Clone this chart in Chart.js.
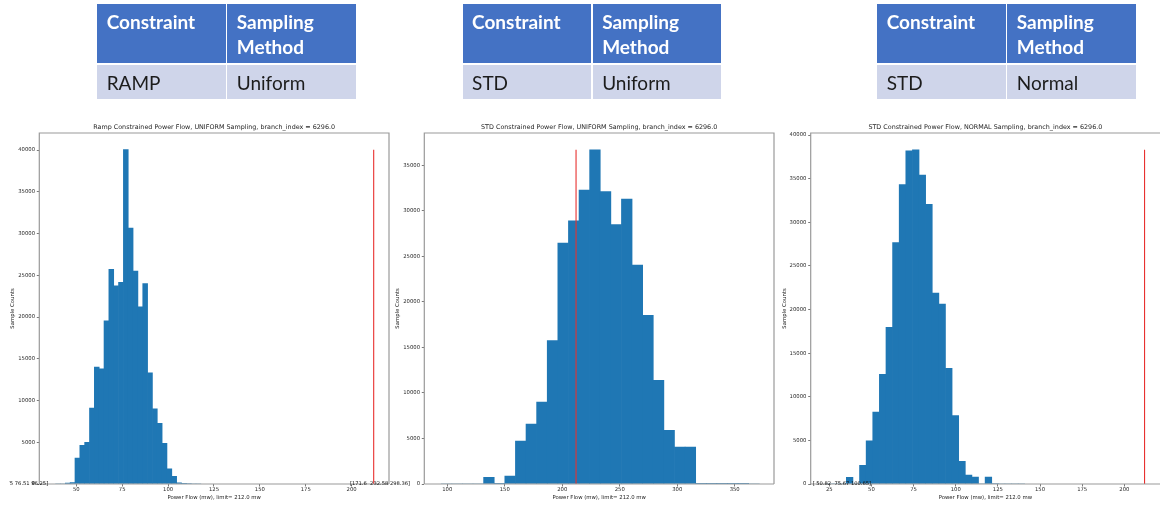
<!DOCTYPE html>
<html>
<head>
<meta charset="utf-8">
<script src="https://cdn.jsdelivr.net/npm/chart.js@4.4.1/dist/chart.umd.min.js"></script>
<style>
  html, body { margin: 0; padding: 0; background: #fff; }
  body { width: 1160px; height: 508px; position: relative; overflow: hidden; }
  canvas.panel { position: absolute; left: 0; top: 0; }
  #c0 { clip-path: inset(0 0 0 9px); }
  .tbl { position: absolute; top: 4px; display: grid;
         grid-template-columns: 128.7px 128.5px; grid-template-rows: 58.7px 33.7px;
         column-gap: 1.4px; row-gap: 2.6px; }
  .tbl .h { background: #4472c4; color: #fff; font-family: Lato, "Open Sans", sans-serif;
            font-weight: 700; font-size: 19px; line-height: 25px; padding: 5.2px 0 0 9.4px; box-sizing: border-box; }
  .tbl .b { background: #cfd5ea; color: #1c1c1c; font-family: Lato, "Open Sans", sans-serif;
            font-weight: 400; font-size: 19px; line-height: 25px; padding: 0 0 0 9.4px; box-sizing: border-box;
            display: flex; align-items: center; }
</style>
</head>
<body>
<canvas class="panel" id="c0" width="1160" height="508"></canvas>
<canvas class="panel" id="c1" width="1160" height="508"></canvas>
<canvas class="panel" id="c2" width="1160" height="508"></canvas>
<script>
// ---- table contents ----
const tableHeaders = ['Constraint', 'Sampling<br>Method'];
const constraints = ['RAMP', 'STD', 'STD'];
const samplingMethods = ['Uniform', 'Uniform', 'Normal'];
const tableLefts = [97.3, 462.7, 877.3];

// ---- histogram counts (30 bins each) ----
const rampUniformCounts = [0, 0, 120, 180, 3110, 4630, 4990, 9090, 14000, 13800,
  19540, 25720, 23730, 24170, 40050, 30670, 25520, 21220, 24010, 13320,
  9010, 7260, 4870, 1830, 920, 150, 90, 60, 0, 0];
const stdUniformCounts = [0, 0, 0, 0, 730, 70, 877, 4712, 6575, 8986,
  15744, 26448, 28895, 32293, 36713, 32110, 28493, 31306, 24037, 18521,
  11397, 5881, 4055, 4055, 70, 40, 30, 30, 20, 0];
const stdNormalCounts = [0, 0, 0, 763, 0, 2135, 4957, 8236, 12583, 17959,
  27682, 34317, 38206, 38320, 35423, 32067, 21887, 20628, 13269, 7855,
  2593, 1030, 800, 0, 800, 60, 0, 0, 0, 0];

// ---- bin layout: first edge and width (mw) ----
const binStarts = [38.73, 94.7, 23.32];
const binWidths = [2.637, 9.224, 3.921];

// ---- axis ranges and tick labels ----
const xRanges = [[29.84, 220.34], [80.0, 384.2], [13.95, 221.16]];
const yMaxes = [42050, 38550, 40236];
const rampTicksX = [50, 75, 100, 125, 150, 175, 200];
const stdUniformTicksX = [100, 150, 200, 250, 300, 350];
const stdNormalTicksX = [25, 50, 75, 100, 125, 150, 175, 200];
const rampTicksY = [0, 5000, 10000, 15000, 20000, 25000, 30000, 35000, 40000];
const stdUniformTicksY = [0, 5000, 10000, 15000, 20000, 25000, 30000, 35000];
const stdNormalTicksY = [0, 5000, 10000, 15000, 20000, 25000, 30000, 35000, 40000];

// ---- labels ----
const limitMw = 212.0;
const panelTitles = [
  'Ramp Constrained Power Flow, UNIFORM Sampling, branch_index = 6296.0',
  'STD Constrained Power Flow, UNIFORM Sampling, branch_index = 6296.0',
  'STD Constrained Power Flow, NORMAL Sampling, branch_index = 6296.0'
];
const bandNotes = ['[56.75 76.51 96.25]', '[171.6  232.58 298.36]', '[ 50.82  75.67 100.65]'];
const bandNoteX = [6.4, 15.3, 15.1];

// ---- build the three tables ----
tableLefts.forEach((left, i) => {
  const t = document.createElement('div');
  t.className = 'tbl';
  t.style.left = left + 'px';
  t.innerHTML =
    `<div class="h">${tableHeaders[0]}</div><div class="h">${tableHeaders[1]}</div>` +
    `<div class="b">${constraints[i]}</div><div class="b">${samplingMethods[i]}</div>`;
  document.body.appendChild(t);
});

// ---- frame, title and band note for each histogram ----
const panelDecor = {
  id: 'panelDecor',
  afterDraw(chart, args, opts) {
    const { ctx, chartArea: a, scales } = chart;
    ctx.save();
    ctx.strokeStyle = '#9a9a9a';
    ctx.lineWidth = 1.2;
    ctx.beginPath();
    ctx.moveTo(a.left, a.bottom);
    ctx.lineTo(a.left, a.top);
    ctx.lineTo(a.right, a.top);
    if (opts.rightSpine) ctx.lineTo(a.right, a.bottom);
    ctx.moveTo(a.left, a.bottom);
    ctx.lineTo(a.right, a.bottom);
    ctx.stroke();

    ctx.fillStyle = '#1e1e1e';
    ctx.font = '6.4px "DejaVu Sans"';
    ctx.textAlign = 'center';
    ctx.textBaseline = 'middle';
    ctx.fillText(opts.title, (a.left + a.right) / 2, a.top - 5.3);

    ctx.fillStyle = '#111';
    ctx.font = '5.2px "DejaVu Sans"';
    ctx.textAlign = 'left';
    ctx.textBaseline = 'alphabetic';
    ctx.fillText(opts.note, scales.x.getPixelForValue(opts.noteX), scales.y.getPixelForValue(0) + 0.5);
    ctx.restore();
  }
};

Chart.defaults.font.family = '"DejaVu Sans"';
Chart.defaults.color = '#2a2a2a';

// plot-area boxes: [left, right, top, bottom]
const areas = [[39.3, 389, 133, 484], [424.3, 774, 133, 484], [810.7, 1160, 133, 484]];
const Y_AXIS_W = 30, X_AXIS_H = 20;

function makePanel(idx, counts, ticksX, ticksY) {
  const [L, R, T, B] = areas[idx];
  const bars = counts.map((c, i) => ({ x: binStarts[idx] + binWidths[idx] * (i + 0.5), y: c }));
  const peak = Math.max(...counts);
  const tickGrid = { display: true, drawOnChartArea: false, drawTicks: true,
                     tickLength: 2.5, tickColor: '#555', tickWidth: 0.8, offset: false };
  new Chart(document.getElementById('c' + idx), {
    type: 'bar',
    data: {
      datasets: [
        { type: 'line', data: [{ x: limitMw, y: 0 }, { x: limitMw, y: peak }],
          borderColor: '#e8302f', borderWidth: 1.1, pointRadius: 0, order: 0 },
        { type: 'bar', data: bars, backgroundColor: '#1f77b4', borderWidth: 0,
          barPercentage: 1.0, categoryPercentage: 1.0, order: 1 }
      ]
    },
    options: {
      responsive: false, devicePixelRatio: 1, animation: false, events: [],
      layout: { padding: { left: L - Y_AXIS_W, right: 1160 - R, top: T, bottom: 508 - B - X_AXIS_H } },
      plugins: {
        legend: { display: false }, tooltip: { enabled: false },
        panelDecor: { title: panelTitles[idx], note: bandNotes[idx], noteX: bandNoteX[idx], rightSpine: idx < 2 }
      },
      scales: {
        x: {
          type: 'linear', min: xRanges[idx][0], max: xRanges[idx][1], offset: false,
          afterBuildTicks: s => { s.ticks = ticksX.map(v => ({ value: v })); },
          afterFit: s => { s.height = X_AXIS_H; },
          grid: tickGrid, border: { display: false },
          ticks: { font: { size: 5.3 }, color: '#2a2a2a', padding: 0.4, maxRotation: 0, autoSkip: false,
                   callback: v => String(v) },
          title: { display: true, text: `Power Flow (mw), limit= ${limitMw.toFixed(1)} mw`,
                   font: { size: 5.35 }, color: '#1e1e1e', padding: { top: 0, bottom: 3.1 } }
        },
        y: {
          type: 'linear', min: 0, max: yMaxes[idx],
          afterBuildTicks: s => { s.ticks = ticksY.map(v => ({ value: v })); },
          afterFit: s => { s.width = Y_AXIS_W; },
          grid: tickGrid, border: { display: false },
          ticks: { font: { size: 5.3 }, color: '#2a2a2a', padding: 1.8, autoSkip: false,
                   callback: v => String(v) },
          title: { display: true, text: 'Sample Counts', font: { size: 5.35 }, color: '#1e1e1e',
                   padding: { top: 0.5, bottom: 0 } }
        }
      }
    },
    plugins: [panelDecor]
  });
}

makePanel(0, rampUniformCounts, rampTicksX, rampTicksY);
makePanel(1, stdUniformCounts, stdUniformTicksX, stdUniformTicksY);
makePanel(2, stdNormalCounts, stdNormalTicksX, stdNormalTicksY);
</script>
</body>
</html>
